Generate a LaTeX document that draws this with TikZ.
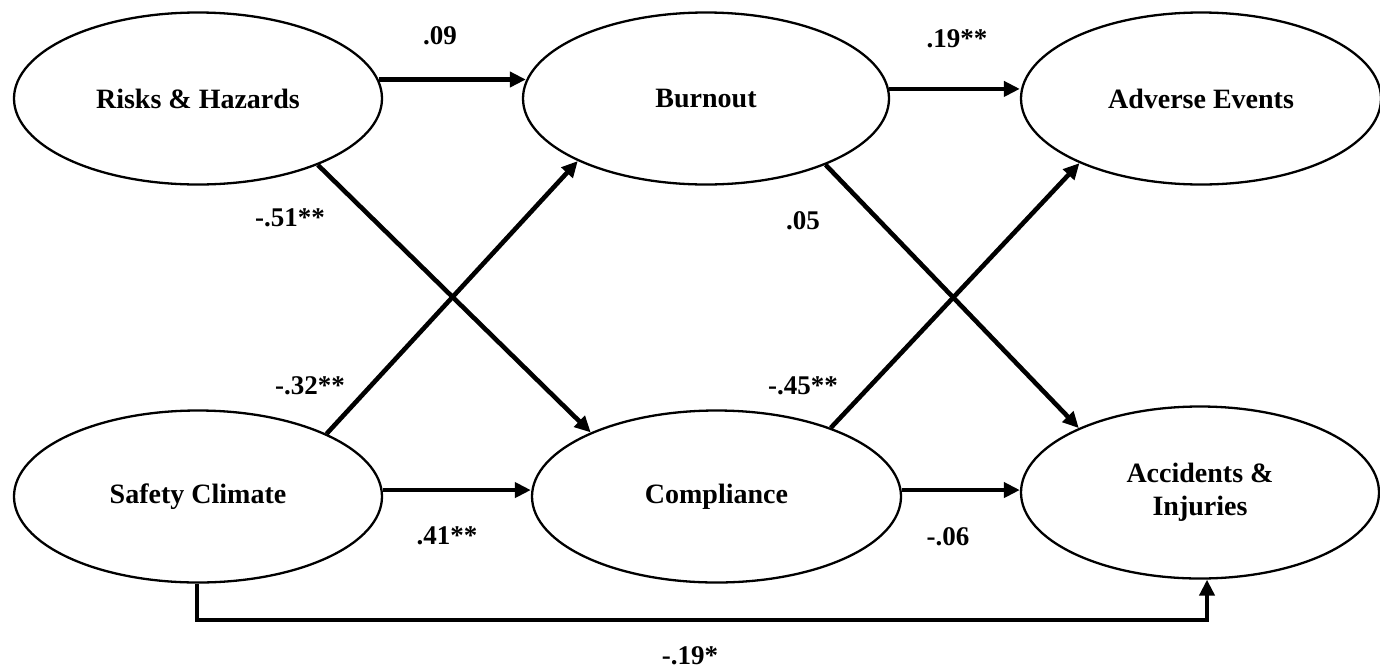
\documentclass[tikz,border=0pt]{standalone}
\usepackage{fontspec}
\setmainfont{Liberation Serif}
\usetikzlibrary{shapes.geometric,arrows.meta}
\begin{document}
\begin{tikzpicture}[x=1pt,y=-1pt,
  lat/.style={ellipse,draw,line width=2.3pt,minimum height=172pt,inner sep=0pt,
    font=\fontsize{28}{33}\selectfont\bfseries,align=center},
  arr/.style={line width=4.6pt,-{Triangle[length=16pt,width=15pt]}},
  lbl/.style={font=\fontsize{27}{30}\selectfont\bfseries,inner sep=0pt}]
\useasboundingbox (0,0) rectangle (1380,670);
\node[lat,minimum width=368pt] (risk) at (198,98.5)   {Risks \& Hazards};
\node[lat,minimum width=366pt] (burn) at (706,98.5)   {Burnout};
\node[lat,minimum width=360pt] (adv)  at (1201,98.5)  {Adverse Events};
\node[lat,minimum width=368pt] (safe) at (198,496.5)  {Safety Climate};
\node[lat,minimum width=369pt] (comp) at (716.5,496.5) {Compliance};
\node[lat,minimum width=358pt] (acc)  at (1200,492.5) {Accidents \&\\Injuries};
% horizontal paths
\draw[arr,shorten >=-4pt] (risk.6.2) -- (risk.6.2 -| burn.west);
\draw[arr] (burn.3.3) -- (burn.3.3 -| adv.west);
\draw[arr] (safe.2) -- (safe.2 -| comp.west);
\draw[arr] (comp.2.3) -- (comp.2.3 -| acc.west);
% crossing paths
\draw[arr] (risk.-29) -- (comp.153.6);
\draw[arr] (safe.26) -- (burn.206.2);
\draw[arr] (burn.-29.5) -- (acc.152.7);
\draw[arr] (comp.31) -- (adv.208);
% elbow path
\coordinate (elb) at (0,620);
\draw[arr] ([xshift=-1pt]safe.south) -- ([xshift=-1pt]safe.south |- elb) -| ([xshift=7pt]acc.south);
% labels
\node[lbl] (l1) at (440,36)  {.09};
\node[lbl] (l2) at (957,39)  {.19**};
\node[lbl] (l3) at (290,218) {-.51**};
\node[lbl] (l4) at (803,221) {.05};
\node[lbl] (l5) at (310,386) {-.32**};
\node[lbl] (l6) at (803,386) {-.45**};
\node[lbl] (l7) at (447,536) {.41**};
\node[lbl] (l8) at (948,537) {-.06};
\node[lbl] (l9) at (690,656) {-.19*};
\end{tikzpicture}
\end{document}
